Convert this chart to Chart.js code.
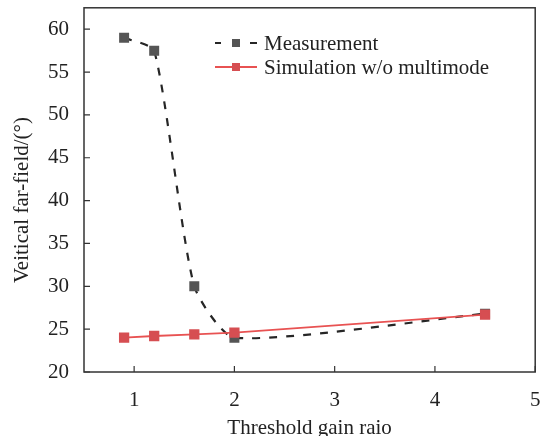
<!DOCTYPE html>
<html>
<head>
<meta charset="utf-8">
<script src="https://cdn.jsdelivr.net/npm/chart.js@4.4.0/dist/chart.umd.min.js"></script>
<style>
  html, body { margin: 0; padding: 0; background: #fff; }
  canvas { display: block; }
</style>
</head>
<body>
<canvas id="myChart" width="543" height="436"></canvas>
<script>
// data
var gainRatio = [0.9, 1.2, 1.6, 2, 4.5];
var measurement = [59.0, 57.5, 30.0, 24.0, 26.8];
var simulation = [24.0, 24.2, 24.4, 24.6, 26.7];
var seriesNames = ['Measurement', 'Simulation w/o multimode'];
var xTickValues = [1, 2, 3, 4, 5];
var yTickValues = [20, 25, 30, 35, 40, 45, 50, 55, 60];
var yTitle = 'Veitical far-field/(°)';

var serif = "'Liberation Serif', 'Times New Roman', serif";
var textColor = '#222';

function pairs(ys) {
  return gainRatio.map(function (x, i) { return { x: x, y: ys[i] }; });
}

function noPadding(s) {
  s.paddingTop = 0; s.paddingBottom = 0;
  s.paddingLeft = 0; s.paddingRight = 0;
}

// frame, inward ticks, y title and the legend
const decorPlugin = {
  id: 'decor',
  afterDraw(chart) {
    const ctx = chart.ctx;
    const a = chart.chartArea;
    const xs = chart.scales.x, ys = chart.scales.y;
    ctx.save();
    ctx.strokeStyle = '#333';
    ctx.lineWidth = 1.5;
    ctx.strokeRect(a.left, a.top, a.right - a.left, a.bottom - a.top);
    ctx.lineWidth = 1.2;
    ctx.beginPath();
    xs.ticks.forEach(function (t) {
      const px = xs.getPixelForValue(t.value);
      ctx.moveTo(px, a.bottom);
      ctx.lineTo(px, a.bottom - 6);
    });
    ys.ticks.forEach(function (t) {
      const py = ys.getPixelForValue(t.value);
      ctx.moveTo(a.left, py);
      ctx.lineTo(a.left + 6, py);
    });
    ctx.stroke();

    ctx.font = '21px ' + serif;
    ctx.fillStyle = textColor;
    ctx.textBaseline = 'middle';

    // y title, sits a little below the middle in the original
    ctx.save();
    ctx.translate(22, 200);
    ctx.rotate(-Math.PI / 2);
    ctx.textAlign = 'center';
    ctx.fillText(yTitle, 0, 0);
    ctx.restore();

    // legend
    chart.data.datasets.forEach(function (ds, i) {
      const y = 43 + i * 24;
      ctx.strokeStyle = ds.borderColor;
      ctx.lineWidth = ds.borderWidth;
      ctx.beginPath();
      if (ds.borderDash) {
        ctx.moveTo(215, y); ctx.lineTo(221, y);
        ctx.moveTo(250, y); ctx.lineTo(257, y);
      } else {
        ctx.moveTo(215, y); ctx.lineTo(257, y);
      }
      ctx.stroke();
      ctx.fillStyle = ds.pointBackgroundColor;
      ctx.fillRect(232, y - 4, 8, 8);
      ctx.fillStyle = textColor;
      ctx.textAlign = 'left';
      ctx.fillText(ds.label, 264, y + 1);
    });
    ctx.restore();
  }
};

const data = {
  datasets: [
    {
      label: seriesNames[0],
      data: pairs(measurement),
      borderColor: '#262626',
      borderWidth: 2.2,
      borderDash: [8, 9],
      pointStyle: 'rect',
      pointRadius: 5.5,
      pointBackgroundColor: '#555',
      pointBorderColor: '#555',
      tension: 0.2,
      order: 2
    },
    {
      label: seriesNames[1],
      data: pairs(simulation),
      borderColor: 'rgb(232,82,82)',
      borderWidth: 1.8,
      pointStyle: 'rect',
      pointRadius: 6,
      pointBackgroundColor: 'rgb(214,78,82)',
      pointBorderColor: 'rgb(214,78,82)',
      tension: 0,
      order: 1
    }
  ]
};

const config = {
  type: 'line',
  data,
  options: {
    responsive: false,
    animation: false,
    layout: { padding: { top: 6, right: 4, left: 0, bottom: 0 } },
    plugins: { legend: { display: false }, tooltip: { enabled: false } },
    scales: {
      x: {
        type: 'linear',
        min: 0.5,
        max: 5,
        afterBuildTicks: function (s) { s.ticks = xTickValues.map(function (v) { return { value: v }; }); },
        afterFit: function (s) { s.height = 64; noPadding(s); },
        grid: { display: false, drawTicks: false },
        border: { display: false },
        ticks: { padding: 16, color: textColor, font: { family: serif, size: 21 } },
        title: {
          display: true,
          text: 'Threshold gain raio',
          color: textColor,
          font: { family: serif, size: 21 },
          padding: { top: 0, bottom: -5 }
        }
      },
      y: {
        type: 'linear',
        min: 20,
        max: 62.5,
        afterBuildTicks: function (s) { s.ticks = yTickValues.map(function (v) { return { value: v }; }); },
        afterFit: function (s) { s.width = 84; noPadding(s); },
        grid: { display: false, drawTicks: false },
        border: { display: false },
        ticks: { padding: 15, color: textColor, font: { family: serif, size: 21 } },
        title: { display: false }
      }
    }
  },
  plugins: [decorPlugin]
};

const myChart = new Chart(document.getElementById('myChart'), config);
</script>
</body>
</html>
